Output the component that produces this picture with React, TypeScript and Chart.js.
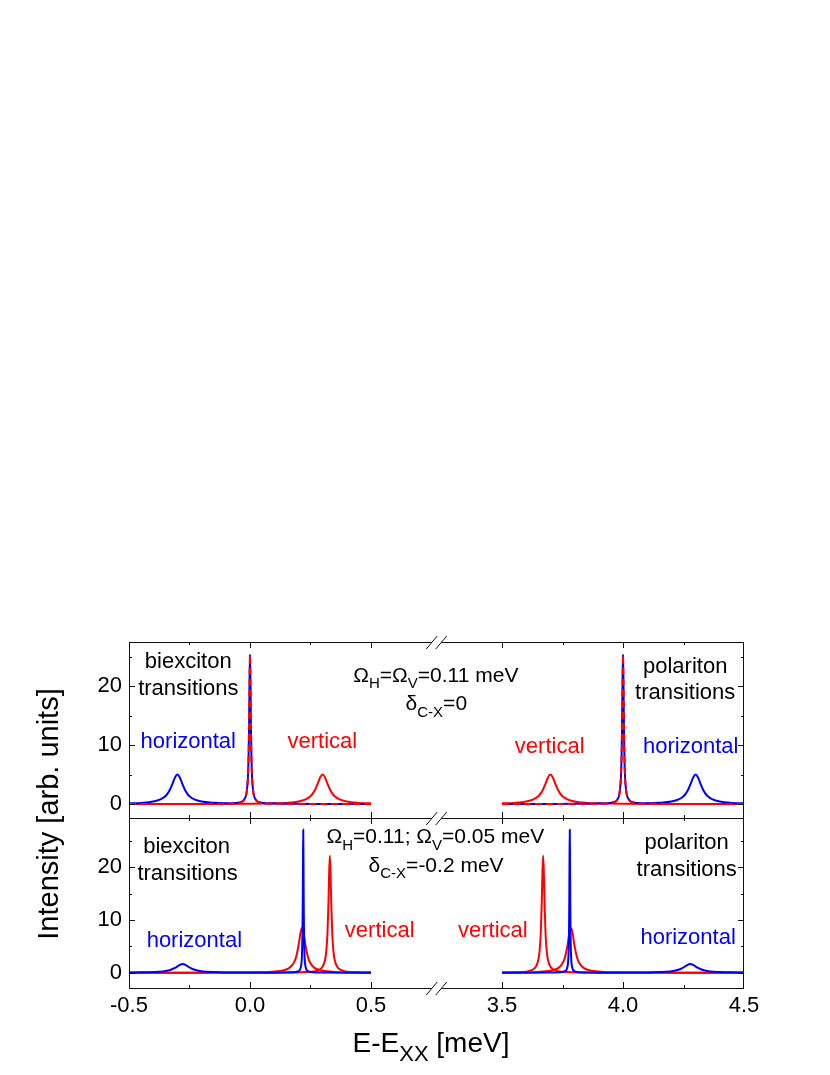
import { useEffect, useRef } from 'react';
import { Chart, registerables } from 'chart.js';
Chart.register(...registerables);

const FONT = '"Liberation Sans", Arial, sans-serif';
const BLUE = '#0000ff';
const RED = '#ff0000';

// ---------- tick values ----------
const X_LEFT_TICKS = [-0.5, 0, 0.5];
const X_RIGHT_TICKS = [3.5, 4.0, 4.5];
const X_LEFT_MINOR = [-0.25, 0.25];
const X_RIGHT_MINOR = [3.75, 4.25];
const Y_MAJOR = [0, 10, 20];
const Y_MINOR = [5, 15, 25];

// ---------- upper panel (Omega_H = Omega_V = 0.11 meV, delta = 0) ----------
const UL_H_X = [-0.5, -0.45, -0.4, -0.37, -0.35, -0.34, -0.33, -0.32, -0.31, -0.3, -0.29, -0.28, -0.27, -0.26, -0.25, -0.23, -0.2, -0.15, -0.1, -0.06, -0.04, -0.03, -0.02, -0.015, -0.01, -0.008, -0.006, -0.004, -0.002, 0, 0.002, 0.004, 0.006, 0.008, 0.01, 0.015, 0.02, 0.03, 0.04, 0.06, 0.1, 0.2, 0.3, 0.5];
const UL_H_Y = [0.11, 0.19, 0.41, 0.78, 1.32, 1.8, 2.5, 3.46, 4.5, 5.0, 4.5, 3.46, 2.5, 1.8, 1.32, 0.78, 0.42, 0.21, 0.15, 0.19, 0.32, 0.5, 1.03, 1.73, 3.54, 5.1, 7.83, 12.7, 20.3, 25.35, 20.3, 12.7, 7.83, 5.1, 3.5, 1.7, 1.0, 0.47, 0.29, 0.15, 0.07, 0.03, 0.02, 0.01];

const UL_V_X = [-0.5, -0.2, 0, 0.1, 0.15, 0.2, 0.23, 0.25, 0.26, 0.27, 0.28, 0.29, 0.3, 0.31, 0.32, 0.33, 0.34, 0.35, 0.37, 0.4, 0.45, 0.5];
const UL_V_Y = [0.01, 0.02, 0.05, 0.11, 0.19, 0.41, 0.78, 1.32, 1.8, 2.5, 3.46, 4.5, 5.0, 4.5, 3.46, 2.5, 1.8, 1.32, 0.78, 0.41, 0.19, 0.11];

const UL_VD_X = [-0.5, -0.1, -0.04, -0.03, -0.02, -0.015, -0.01, -0.008, -0.006, -0.004, -0.002, 0, 0.002, 0.004, 0.006, 0.008, 0.01, 0.015, 0.02, 0.03, 0.04, 0.1, 0.5];
const UL_VD_Y = [0, 0.04, 0.25, 0.44, 0.97, 1.68, 3.49, 5.06, 7.78, 12.65, 20.24, 25.3, 20.24, 12.65, 7.78, 5.06, 3.49, 1.68, 0.97, 0.44, 0.25, 0.04, 0];

const UR_H_X = [3.5, 3.7, 3.8, 3.9, 3.94, 3.96, 3.97, 3.98, 3.985, 3.99, 3.992, 3.994, 3.996, 3.998, 4.0, 4.002, 4.004, 4.006, 4.008, 4.01, 4.015, 4.02, 4.03, 4.04, 4.06, 4.1, 4.15, 4.2, 4.23, 4.25, 4.26, 4.27, 4.28, 4.29, 4.3, 4.31, 4.32, 4.33, 4.34, 4.35, 4.37, 4.4, 4.45, 4.5];
const UR_H_Y = [0.01, 0.02, 0.03, 0.07, 0.15, 0.29, 0.47, 1.0, 1.7, 3.5, 5.1, 7.83, 12.7, 20.3, 25.35, 20.3, 12.7, 7.83, 5.1, 3.54, 1.73, 1.03, 0.5, 0.32, 0.19, 0.15, 0.21, 0.42, 0.78, 1.32, 1.8, 2.5, 3.46, 4.5, 5.0, 4.5, 3.46, 2.5, 1.8, 1.32, 0.78, 0.41, 0.19, 0.11];

const UR_V_X = [3.5, 3.55, 3.6, 3.63, 3.65, 3.66, 3.67, 3.68, 3.69, 3.7, 3.71, 3.72, 3.73, 3.74, 3.75, 3.77, 3.8, 3.85, 3.9, 4.0, 4.2, 4.5];
const UR_V_Y = [0.11, 0.19, 0.41, 0.78, 1.32, 1.8, 2.5, 3.46, 4.5, 5.0, 4.5, 3.46, 2.5, 1.8, 1.32, 0.78, 0.41, 0.19, 0.11, 0.05, 0.02, 0.01];

const UR_VD_X = [3.5, 3.9, 3.96, 3.97, 3.98, 3.985, 3.99, 3.992, 3.994, 3.996, 3.998, 4.0, 4.002, 4.004, 4.006, 4.008, 4.01, 4.015, 4.02, 4.03, 4.04, 4.1, 4.5];
const UR_VD_Y = [0, 0.04, 0.25, 0.44, 0.97, 1.68, 3.49, 5.06, 7.78, 12.65, 20.24, 25.3, 20.24, 12.65, 7.78, 5.06, 3.49, 1.68, 0.97, 0.44, 0.25, 0.04, 0];

// ---------- lower panel (Omega_H = 0.11, Omega_V = 0.05 meV, delta = -0.2 meV) ----------
const LL_H_X = [-0.5, -0.45, -0.4, -0.36, -0.33, -0.31, -0.295, -0.278, -0.26, -0.245, -0.225, -0.195, -0.15, -0.1, 0, 0.1, 0.18, 0.2, 0.21, 0.215, 0.217, 0.218, 0.219, 0.22, 0.221, 0.222, 0.223, 0.225, 0.23, 0.24, 0.26, 0.3, 0.4, 0.5];
const LL_H_Y = [0.04, 0.065, 0.125, 0.25, 0.52, 0.9, 1.33, 1.65, 1.31, 0.87, 0.5, 0.25, 0.115, 0.06, 0.026, 0.015, 0.08, 0.28, 1.05, 3.74, 8.34, 13.55, 21.7, 27.1, 21.7, 13.55, 8.34, 3.74, 1.05, 0.28, 0.08, 0.025, 0.01, 0.005];

const LL_VB_X = [-0.5, -0.2, 0, 0.08, 0.13, 0.16, 0.18, 0.19, 0.2, 0.205, 0.21, 0.215, 0.22, 0.225, 0.23, 0.24, 0.25, 0.26, 0.275, 0.3, 0.35, 0.42, 0.5];
const LL_VB_Y = [0.005, 0.016, 0.06, 0.15, 0.37, 0.82, 1.78, 2.9, 5.02, 6.49, 7.89, 8.5, 7.89, 6.49, 5.02, 2.9, 1.78, 1.17, 0.7, 0.37, 0.15, 0.065, 0.034];

const LL_VN_X = [-0.5, 0, 0.13, 0.2, 0.25, 0.275, 0.29, 0.3, 0.31, 0.315, 0.32, 0.324, 0.327, 0.33, 0.333, 0.336, 0.34, 0.345, 0.35, 0.36, 0.37, 0.39, 0.42, 0.46, 0.5];
const LL_VN_Y = [0.002, 0.01, 0.027, 0.064, 0.17, 0.35, 0.66, 1.15, 2.42, 3.97, 7.3, 12.8, 18.75, 22.2, 18.75, 12.8, 7.3, 3.97, 2.42, 1.15, 0.66, 0.3, 0.134, 0.064, 0.038];

const LR_H_X = [3.5, 3.6, 3.7, 3.74, 3.76, 3.77, 3.775, 3.777, 3.778, 3.779, 3.78, 3.781, 3.782, 3.783, 3.785, 3.79, 3.8, 3.82, 3.9, 4.0, 4.1, 4.15, 4.195, 4.225, 4.245, 4.26, 4.278, 4.295, 4.31, 4.33, 4.36, 4.4, 4.45, 4.5];
const LR_H_Y = [0.005, 0.01, 0.025, 0.08, 0.28, 1.05, 3.74, 8.34, 13.55, 21.7, 27.1, 21.7, 13.55, 8.34, 3.74, 1.05, 0.28, 0.08, 0.015, 0.026, 0.06, 0.115, 0.25, 0.5, 0.87, 1.31, 1.65, 1.33, 0.9, 0.52, 0.25, 0.125, 0.065, 0.04];

const LR_VB_X = [3.5, 3.58, 3.65, 3.7, 3.725, 3.74, 3.75, 3.76, 3.77, 3.775, 3.78, 3.785, 3.79, 3.795, 3.8, 3.81, 3.82, 3.84, 3.87, 3.92, 4.0, 4.2, 4.5];
const LR_VB_Y = [0.034, 0.065, 0.15, 0.37, 0.7, 1.17, 1.78, 2.9, 5.02, 6.49, 7.89, 8.5, 7.89, 6.49, 5.02, 2.9, 1.78, 0.82, 0.37, 0.15, 0.06, 0.016, 0.005];

const LR_VN_X = [3.5, 3.54, 3.58, 3.61, 3.63, 3.64, 3.65, 3.655, 3.66, 3.664, 3.667, 3.67, 3.673, 3.676, 3.68, 3.685, 3.69, 3.7, 3.71, 3.725, 3.75, 3.8, 3.87, 4.0, 4.5];
const LR_VN_Y = [0.038, 0.064, 0.134, 0.3, 0.66, 1.15, 2.42, 3.97, 7.3, 12.8, 18.75, 22.2, 18.75, 12.8, 7.3, 3.97, 2.42, 1.15, 0.66, 0.35, 0.17, 0.064, 0.027, 0.01, 0.002];

// ---------- texts ----------
type Seg = { t: string; sub?: boolean };
const OMEGA_UP: Seg[] = [{ t: 'Ω' }, { t: 'H', sub: true }, { t: '=Ω' }, { t: 'V', sub: true }, { t: '=0.11 meV' }];
const DELTA_UP: Seg[] = [{ t: 'δ' }, { t: 'C-X', sub: true }, { t: '=0' }];
const OMEGA_LOW: Seg[] = [{ t: 'Ω' }, { t: 'H', sub: true }, { t: '=0.11; Ω' }, { t: 'V', sub: true }, { t: '=0.05 meV' }];
const DELTA_LOW: Seg[] = [{ t: 'δ' }, { t: 'C-X', sub: true }, { t: '=-0.2 meV' }];
const X_TITLE: Seg[] = [{ t: 'E-E' }, { t: 'XX', sub: true }, { t: ' [meV]' }];
const Y_TITLE = 'Intensity [arb. units]';

type Label = { text: string | Seg[]; color: string; xAxis: string; yAxis: string; x: number; y: number };
const LABELS: Label[] = [
  { text: 'biexciton', color: '#000', xAxis: 'xL', yAxis: 'yUp', x: -0.255, y: 23.05 },
  { text: 'transitions', color: '#000', xAxis: 'xL', yAxis: 'yUp', x: -0.255, y: 18.47 },
  { text: 'horizontal', color: BLUE, xAxis: 'xL', yAxis: 'yUp', x: -0.255, y: 9.49 },
  { text: 'vertical', color: RED, xAxis: 'xL', yAxis: 'yUp', x: 0.299, y: 9.49 },
  { text: OMEGA_UP, color: '#000', xAxis: 'xL', yAxis: 'yUp', x: 0.768, y: 20.73 },
  { text: DELTA_UP, color: '#000', xAxis: 'xL', yAxis: 'yUp', x: 0.77, y: 15.93 },
  { text: 'polariton', color: '#000', xAxis: 'xR', yAxis: 'yUp', x: 4.257, y: 22.2 },
  { text: 'transitions', color: '#000', xAxis: 'xR', yAxis: 'yUp', x: 4.257, y: 17.8 },
  { text: 'vertical', color: RED, xAxis: 'xR', yAxis: 'yUp', x: 3.697, y: 8.69 },
  { text: 'horizontal', color: BLUE, xAxis: 'xR', yAxis: 'yUp', x: 4.28, y: 8.69 },
  { text: 'biexciton', color: '#000', xAxis: 'xL', yAxis: 'yLow', x: -0.262, y: 22.66 },
  { text: 'transitions', color: '#000', xAxis: 'xL', yAxis: 'yLow', x: -0.258, y: 17.59 },
  { text: 'horizontal', color: BLUE, xAxis: 'xL', yAxis: 'yLow', x: -0.23, y: 4.93 },
  { text: 'vertical', color: RED, xAxis: 'xL', yAxis: 'yLow', x: 0.536, y: 6.83 },
  { text: OMEGA_LOW, color: '#000', xAxis: 'xL', yAxis: 'yLow', x: 0.766, y: 24.55 },
  { text: DELTA_LOW, color: '#000', xAxis: 'xL', yAxis: 'yLow', x: 0.769, y: 19.17 },
  { text: 'vertical', color: RED, xAxis: 'xR', yAxis: 'yLow', x: 3.462, y: 6.83 },
  { text: 'polariton', color: '#000', xAxis: 'xR', yAxis: 'yLow', x: 4.263, y: 23.42 },
  { text: 'transitions', color: '#000', xAxis: 'xR', yAxis: 'yLow', x: 4.263, y: 18.35 },
  { text: 'horizontal', color: BLUE, xAxis: 'xR', yAxis: 'yLow', x: 4.269, y: 5.45 },
];

const toXY = (xs: number[], ys: number[]) => xs.map((x, i) => ({ x, y: ys[i] }));

function drawRich(ctx: CanvasRenderingContext2D, segs: Seg[], cx: number, baseY: number, size: number, subSize: number, subDy: number, color: string) {
  const widths = segs.map((s) => {
    ctx.font = `${s.sub ? subSize : size}px ${FONT}`;
    return ctx.measureText(s.t).width;
  });
  const total = widths.reduce((a, b) => a + b, 0);
  let x = cx - total / 2;
  ctx.fillStyle = color;
  ctx.textAlign = 'left';
  ctx.textBaseline = 'alphabetic';
  segs.forEach((s, i) => {
    ctx.font = `${s.sub ? subSize : size}px ${FONT}`;
    ctx.fillText(s.t, x, baseY + (s.sub ? subDy : 0));
    x += widths[i];
  });
}

const framePlugin = {
  id: 'frame',
  afterDraw(chart: any) {
    const ctx: CanvasRenderingContext2D = chart.ctx;
    const a = chart.chartArea;
    const xL = chart.scales.xL, xR = chart.scales.xR, yUp = chart.scales.yUp, yLow = chart.scales.yLow;
    const mid = yUp.bottom;
    const bx = xL.right;
    const gapL = bx - 4.75, gapR = bx + 4.75;
    ctx.save();
    ctx.strokeStyle = '#111';
    ctx.lineWidth = 1;
    ctx.beginPath();
    // horizontal lines with breaks
    [a.top, mid, a.bottom].forEach((yy: number) => {
      const y = Math.round(yy) + 0.5;
      ctx.moveTo(a.left, y); ctx.lineTo(gapL, y);
      ctx.moveTo(gapR, y); ctx.lineTo(a.right, y);
      [gapL, gapR].forEach((c) => { ctx.moveTo(c - 5.5, y + 6.5); ctx.lineTo(c + 5.5, y - 6.5); });
    });
    // verticals
    const lx = Math.round(a.left) + 0.5, rx = Math.round(a.right) - 0.5;
    ctx.moveTo(lx, a.top); ctx.lineTo(lx, a.bottom);
    ctx.moveTo(rx, a.top); ctx.lineTo(rx, a.bottom);
    // x ticks
    const xt = (scale: any, vals: number[], len: number) => {
      vals.forEach((v) => {
        const px = Math.round(scale.getPixelForValue(v)) + 0.5;
        if (px <= a.left + 1 || px >= a.right - 1) return;
        ctx.moveTo(px, a.top); ctx.lineTo(px, a.top + len);
        ctx.moveTo(px, mid); ctx.lineTo(px, mid - len);
        ctx.moveTo(px, mid); ctx.lineTo(px, mid + len);
        ctx.moveTo(px, a.bottom); ctx.lineTo(px, a.bottom - len);
      });
    };
    xt(xL, X_LEFT_TICKS, 6); xt(xR, X_RIGHT_TICKS, 6);
    xt(xL, X_LEFT_MINOR, 3); xt(xR, X_RIGHT_MINOR, 3);
    // y ticks
    const yt = (scale: any, vals: number[], len: number) => {
      vals.forEach((v) => {
        if (v < scale.min || v > scale.max) return;
        const py = Math.round(scale.getPixelForValue(v)) + 0.5;
        ctx.moveTo(a.left, py); ctx.lineTo(a.left + len, py);
        ctx.moveTo(a.right, py); ctx.lineTo(a.right - len, py);
      });
    };
    yt(yUp, Y_MAJOR, 6); yt(yLow, Y_MAJOR, 6);
    yt(yUp, Y_MINOR, 3); yt(yLow, Y_MINOR, 3);
    ctx.stroke();

    // annotations
    LABELS.forEach((l) => {
      const px = chart.scales[l.xAxis].getPixelForValue(l.x);
      const py = chart.scales[l.yAxis].getPixelForValue(l.y);
      if (typeof l.text === 'string') {
        ctx.font = `22px ${FONT}`;
        ctx.fillStyle = l.color;
        ctx.textAlign = 'center';
        ctx.textBaseline = 'alphabetic';
        ctx.fillText(l.text, px, py);
      } else {
        drawRich(ctx, l.text, px, py, 21, 15, 6.5, l.color);
      }
    });

    // axis titles
    drawRich(ctx, X_TITLE, a.left + 302, a.bottom + 63.7, 28, 22, 9, '#000');
    ctx.save();
    ctx.translate(a.left - 71.5, a.top + 172);
    ctx.rotate(-Math.PI / 2);
    ctx.font = `29px ${FONT}`;
    ctx.fillStyle = '#000';
    ctx.textAlign = 'center';
    ctx.textBaseline = 'alphabetic';
    ctx.fillText(Y_TITLE, 0, 0);
    ctx.restore();
    ctx.restore();
  },
};

export default function App() {
  const ref = useRef<HTMLCanvasElement>(null);
  useEffect(() => {
    const canvas = ref.current!;
    const mk = (xs: number[], ys: number[], color: string, xAxisID: string, yAxisID: string, order: number, dash: number[] = []) => ({
      data: toXY(xs, ys),
      borderColor: color,
      backgroundColor: color,
      borderWidth: 2,
      borderDash: dash,
      pointRadius: 0,
      fill: false,
      cubicInterpolationMode: 'monotone' as const,
      xAxisID,
      yAxisID,
      order,
    });
    const tickFont = { family: FONT, size: 22 };
    const xScale = (min: number, max: number, weight: number, ticks: number[]) => ({
      type: 'linear' as const,
      position: 'bottom' as const,
      stack: 'xs',
      stackWeight: 1,
      weight,
      min,
      max,
      grid: { display: false, drawTicks: false },
      border: { display: false },
      ticks: { font: tickFont, color: '#000', padding: 5, autoSkip: false, maxRotation: 0, callback: (v: any) => Number(v).toFixed(1) },
      afterBuildTicks: (s: any) => { s.ticks = ticks.map((v) => ({ value: v })); },
      afterFit: (s: any) => { s.height = 45; },
    });
    const yScale = (min: number, max: number, weight: number, sw: number) => ({
      type: 'linear' as const,
      position: 'left' as const,
      stack: 'ys',
      stackWeight: sw,
      weight,
      min,
      max,
      grid: { display: false, drawTicks: false },
      border: { display: false },
      ticks: { font: tickFont, color: '#000', padding: 7, autoSkip: false, callback: (v: any) => String(v) },
      afterBuildTicks: (s: any) => { s.ticks = Y_MAJOR.map((v) => ({ value: v })); },
      afterFit: (s: any) => { s.width = 60; },
    });
    const chart = new Chart(canvas, {
      type: 'line',
      data: {
        datasets: [
          mk(UL_V_X, UL_V_Y, RED, 'xL', 'yUp', 3),
          mk(UL_H_X, UL_H_Y, BLUE, 'xL', 'yUp', 2),
          mk(UL_VD_X, UL_VD_Y, RED, 'xL', 'yUp', 1, [7, 4]),
          mk(UR_V_X, UR_V_Y, RED, 'xR', 'yUp', 3),
          mk(UR_H_X, UR_H_Y, BLUE, 'xR', 'yUp', 2),
          mk(UR_VD_X, UR_VD_Y, RED, 'xR', 'yUp', 1, [7, 4]),
          mk(LL_VB_X, LL_VB_Y, RED, 'xL', 'yLow', 3),
          mk(LL_VN_X, LL_VN_Y, RED, 'xL', 'yLow', 3),
          mk(LL_H_X, LL_H_Y, BLUE, 'xL', 'yLow', 2),
          mk(LR_VB_X, LR_VB_Y, RED, 'xR', 'yLow', 3),
          mk(LR_VN_X, LR_VN_Y, RED, 'xR', 'yLow', 3),
          mk(LR_H_X, LR_H_Y, BLUE, 'xR', 'yLow', 2),
        ] as any,
      },
      options: {
        responsive: false,
        animation: false,
        events: [],
        layout: { padding: { left: 61, right: 78, top: 634, bottom: 34 } },
        plugins: { legend: { display: false }, tooltip: { enabled: false }, title: { display: false } },
        scales: {
          xL: xScale(-0.5, 0.7707, 1, X_LEFT_TICKS),
          xR: xScale(3.2293, 4.5, 2, X_RIGHT_TICKS),
          yUp: yScale(-2.37, 27.46, 2, 176),
          yLow: yScale(-2.9, 29.35, 1, 170),
        } as any,
      },
      plugins: [framePlugin],
    });
    return () => chart.destroy();
  }, []);
  return <canvas ref={ref} width={814} height={1059} style={{ display: 'block' }} />;
}
